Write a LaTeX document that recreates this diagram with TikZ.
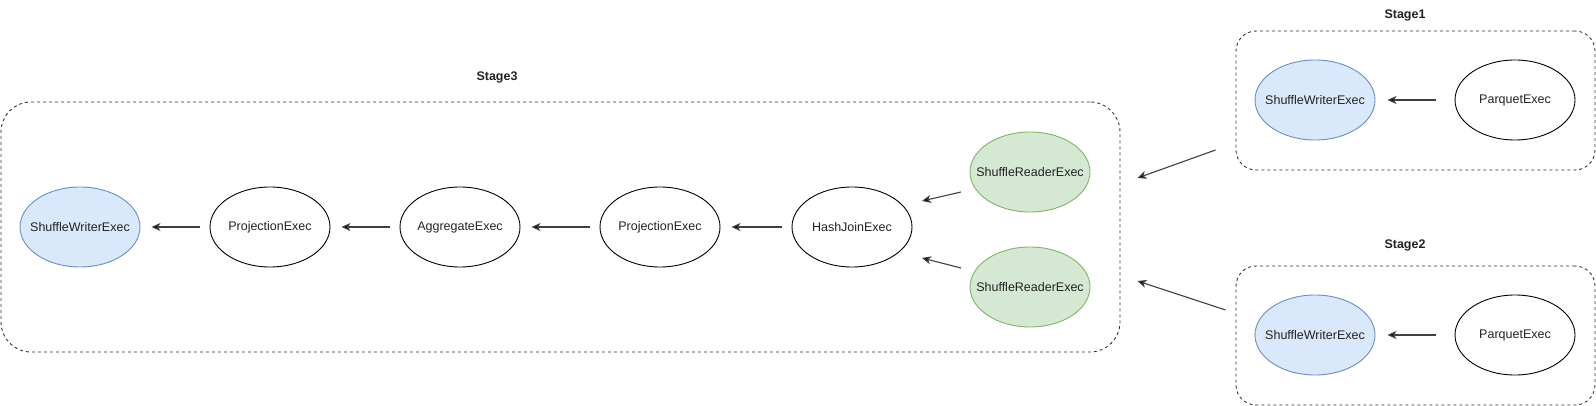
\documentclass[tikz,border=0pt]{standalone}
\usepackage{fontspec}
\setmainfont{Liberation Sans}
\usetikzlibrary{arrows.meta,calc,shapes.geometric}
\definecolor{bluefill}{HTML}{DAE8FC}
\definecolor{bluedraw}{HTML}{6C8EBF}
\definecolor{greenfill}{HTML}{D5E8D4}
\definecolor{greendraw}{HTML}{82B366}
\definecolor{txt}{HTML}{222222}
\newcommand{\ctxt}[1]{\makebox[0pt][c]{#1}}
\begin{document}
\begin{tikzpicture}[x=1pt,y=-1pt,
  op/.style={ellipse, draw=black, line width=0.9pt, minimum width=120pt, minimum height=80pt, inner sep=0pt, text=txt, font=\fontsize{12.5}{14}\selectfont},
  writer/.style={op, draw=bluedraw, fill=bluefill},
  reader/.style={op, draw=greendraw, fill=greenfill},
  stagebox/.style={draw=black!80, line width=0.9pt, dash pattern=on 3pt off 3pt, inner sep=0pt},
  lbl/.style={font=\bfseries\fontsize{12.5}{14}\selectfont, text=txt, inner sep=0pt},
  arr/.style={draw=black!75, line width=1.1pt, -{Stealth[length=9pt,width=8pt,inset=2.5pt,fill=black]}}
]
\useasboundingbox (0,0) rectangle (1596,406);

% stage boxes
\node[stagebox, rounded corners=30pt, minimum width=1119pt, minimum height=250pt] (st3) at (560.5,227) {};
\node[stagebox, rounded corners=20pt, minimum width=359pt, minimum height=139pt] (st1) at (1415.5,100.5) {};
\node[stagebox, rounded corners=20pt, minimum width=359pt, minimum height=139pt] (st2) at (1415.5,335.5) {};

\node[lbl] (l3) at (497,77) {Stage3};
\node[lbl] (l1) at (1405,15) {Stage1};
\node[lbl] (l2) at (1405,245) {Stage2};

% stage 3
\node[writer] (sw3) at (80,227) {\ctxt{ShuffleWriterExec}};
\node[op] (p1) at (270,227) {\ctxt{ProjectionExec}};
\node[op] (ag) at (460,227) {\ctxt{AggregateExec}};
\node[op] (p2) at (660,227) {\ctxt{ProjectionExec}};
\node[op] (hj) at (852,227) {\ctxt{HashJoinExec}};
\node[reader] (r1) at (1030,172) {\ctxt{ShuffleReaderExec}};
\node[reader] (r2) at (1030,287) {\ctxt{ShuffleReaderExec}};

% stage 1
\node[writer] (sw1) at (1315,100) {\ctxt{ShuffleWriterExec}};
\node[op] (pq1) at (1515,100) {\ctxt{ParquetExec}};
% stage 2
\node[writer] (sw2) at (1315,335) {\ctxt{ShuffleWriterExec}};
\node[op] (pq2) at (1515,335) {\ctxt{ParquetExec}};

% arrows
\draw[arr] ($(p1.west)+(-10,0)$) -- ($(sw3.east)+(11,0)$);
\draw[arr] ($(ag.west)+(-10,0)$) -- ($(p1.east)+(11,0)$);
\draw[arr] ($(p2.west)+(-10,0)$) -- ($(ag.east)+(11,0)$);
\draw[arr] ($(hj.west)+(-10,0)$) -- ($(p2.east)+(11,0)$);
\draw[arr] ($(r1)+(-69,20)$) -- ($(hj)+(70,-26)$);
\draw[arr] ($(r2)+(-69,-19)$) -- ($(hj)+(70,31)$);
\draw[arr] ($(pq1.west)+(-19,0)$) -- ($(sw1.east)+(12,0)$);
\draw[arr] ($(pq2.west)+(-19,0)$) -- ($(sw2.east)+(12,0)$);
\draw[arr] ($(st1.west)+(-20,49.5)$) -- ($(st3.east)+(17,-49)$);
\draw[arr] ($(st2.west)+(-10,-25.5)$) -- ($(st3.east)+(17,54)$);
\end{tikzpicture}
\end{document}
